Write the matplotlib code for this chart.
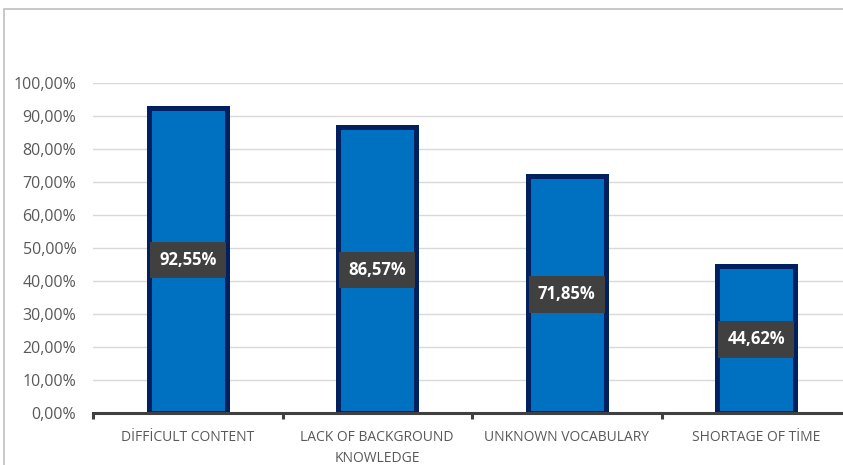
import matplotlib.pyplot as plt
from matplotlib.patches import Rectangle

plt.rcParams['font.family'] = ['Open Sans', 'DejaVu Sans']

# data
categories = ['DİFFİCULT CONTENT', 'LACK OF BACKGROUND\nKNOWLEDGE',
              'UNKNOWN VOCABULARY', 'SHORTAGE OF TİME']
values = [92.55, 86.57, 71.85, 44.62]
labels = ['92,55%', '86,57%', '71,85%', '44,62%']
yticks = [0, 10, 20, 30, 40, 50, 60, 70, 80, 90, 100]

fig = plt.figure(figsize=(8.43, 4.65), dpi=100)
# chart frame (cut off at the right and bottom)
fig.patches.append(Rectangle((4 / 843, -0.1), 1.0, 1.1 - 9 / 465,
                             transform=fig.transFigure, fill=False,
                             edgecolor='#bfbfbf', linewidth=1.2))

ax = fig.add_axes([93 / 843, 52 / 465, 758 / 843, 330 / 465])
x = range(len(categories))
ax.bar(x, values, width=0.41, color='#0070C0', edgecolor='#002060',
       linewidth=3.6, zorder=3)

for i, (v, lab) in enumerate(zip(values, labels)):
    ax.text(i, v / 2, lab, ha='center', va='center', color='white',
            fontsize=12, fontweight='bold', zorder=5,
            bbox=dict(boxstyle='square,pad=0.55', facecolor='#404040',
                      edgecolor='none'))

ax.set_xlim(-0.5, len(categories) - 0.5)
ax.set_ylim(0, 100)
ax.set_yticks(yticks)
ax.set_yticklabels([f'{t},00%' for t in yticks])
ax.yaxis.grid(True, color='#d9d9d9', linewidth=1, zorder=0)
ax.set_xticks(x)
ax.set_xticklabels(categories, linespacing=1.55)
ax.set_xticks([i - 0.5 for i in range(len(categories) + 1)], minor=True)

for s in ['top', 'right', 'left']:
    ax.spines[s].set_visible(False)
ax.spines['bottom'].set_color('#404040')
ax.spines['bottom'].set_linewidth(2.2)
ax.spines['bottom'].set_zorder(4)

ax.tick_params(axis='y', length=0, labelsize=11.5, labelcolor='#595959', pad=12)
ax.tick_params(axis='x', which='major', length=0, labelsize=10,
               labelcolor='#595959', pad=12)
ax.tick_params(axis='x', which='minor', length=4, width=2.2, color='#404040')

fig.savefig('out.png', dpi=100)
